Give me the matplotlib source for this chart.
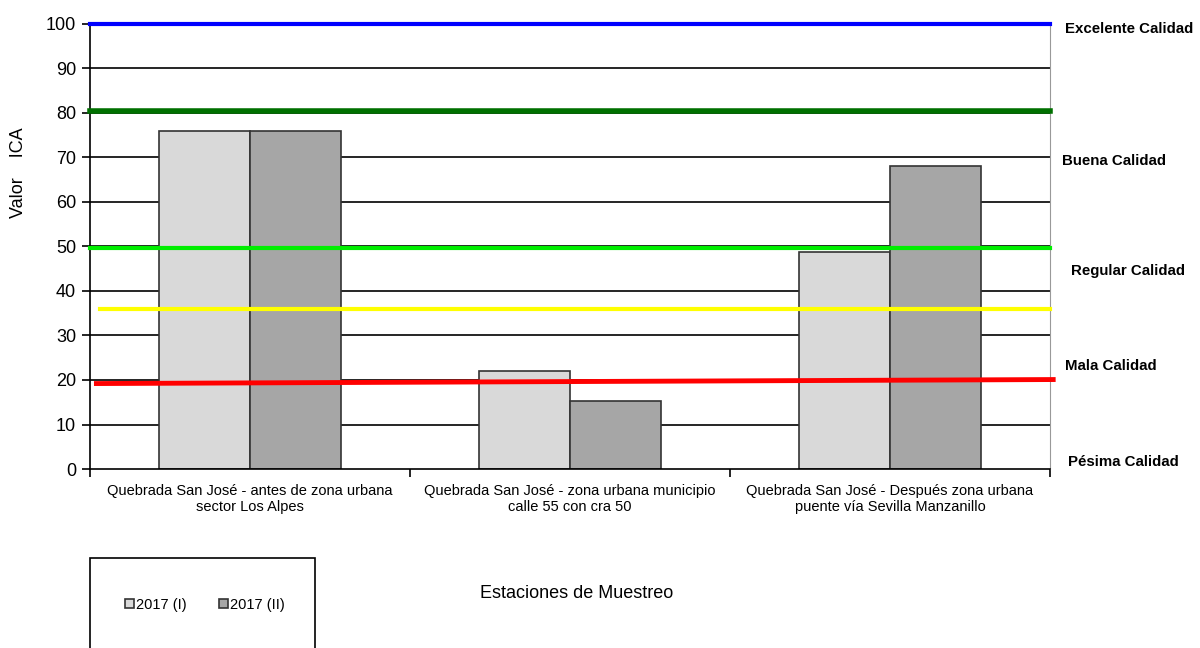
import matplotlib
matplotlib.use("Agg")
import matplotlib.pyplot as plt
from matplotlib.patches import Rectangle
import numpy as np

categories = ["Quebrada San José - antes de zona urbana\nsector Los Alpes",
              "Quebrada San José - zona urbana municipio\ncalle 55 con cra 50",
              "Quebrada San José - Después zona urbana\npuente vía Sevilla Manzanillo"]
series_names = ["2017 (I)", "2017 (II)"]
vals_I = [76, 22, 48.7]
vals_II = [76, 15.3, 68]
yticks = list(range(0, 101, 10))

# quality threshold lines (start value, end value)
thr_blue = [100, 100]
thr_dgreen = [80.5, 80.5]
thr_green = [49.6, 49.6]
thr_yellow = [36, 36]
thr_red = [19.2, 20.1]

quality_labels = ["Excelente Calidad", "Buena Calidad", "Regular Calidad", "Mala Calidad", "Pésima Calidad"]
quality_y = [98.8, 69.3, 44.5, 23.2, 1.5]
quality_x = [1.016, 1.013, 1.022, 1.016, 1.019]

FONT = ["Liberation Sans", "DejaVu Sans"]
plt.rcParams["font.family"] = FONT

fig = plt.figure(figsize=(12, 6.48), dpi=100)
ax = fig.add_axes([0.075, 0.2762, 0.8, 0.687])

x = np.arange(len(categories))
w = 0.285
ax.set_xlim(-0.5, 2.5)
ax.set_ylim(0, 100)

for yt in yticks[1:-1]:
    ax.axhline(yt, color="black", lw=1.2, zorder=0)

ax.bar(x - w/2, vals_I, w, color="#d9d9d9", edgecolor="#333333", lw=1.2, zorder=2, label=series_names[0])
ax.bar(x + w/2, vals_II, w, color="#a6a6a6", edgecolor="#333333", lw=1.2, zorder=2, label=series_names[1])

xl = [-0.5, 2.5]
ax.plot(xl, thr_blue, color="#0000ff", lw=3, zorder=4, clip_on=False)
ax.plot(xl, thr_dgreen, color="#007000", lw=4, zorder=4, clip_on=False)
ax.plot(xl, thr_green, color="#00ee00", lw=3, zorder=4, clip_on=False)
ax.plot([-0.47, 2.5], thr_yellow, color="#ffff00", lw=3, zorder=4, clip_on=False)
ax.plot([-0.48, 2.51], thr_red, color="#ff0000", lw=3.5, zorder=4, clip_on=False)

ax.spines["top"].set_visible(False)
ax.spines["right"].set_color("#999999")
ax.spines["left"].set_color("black")
ax.spines["bottom"].set_color("black")
ax.spines["left"].set_linewidth(1.2)
ax.spines["bottom"].set_linewidth(1.2)

ax.set_yticks(yticks)
ax.set_yticklabels([str(v) for v in yticks], fontsize=13)
ax.tick_params(axis="y", length=6, width=1.2, pad=4, colors="black")
ax.set_xticks([-0.5, 0.5, 1.5, 2.5])
ax.set_xticklabels([])
ax.tick_params(axis="x", length=6, width=1.2)
for xi, c in zip(x, categories):
    ax.text(xi, -3.4, c, ha="center", va="top", fontsize=10.5, linespacing=1.15)

ax.set_ylabel("Valor    ICA", fontsize=13)
ax.yaxis.set_label_coords(-0.066, 0.665)

for lab, yy, xx in zip(quality_labels, quality_y, quality_x):
    ax.text(xx, yy, lab, transform=ax.get_yaxis_transform(), ha="left", va="center",
            fontsize=10.8, fontweight="bold")

fig.text(577/1200, 1-594/648, "Estaciones de Muestreo", ha="center", va="center", fontsize=13)

fig.patches.append(Rectangle((90/1200, -0.05), 225/1200, (648-558)/648 + 0.05,
                             transform=fig.transFigure, facecolor="white", edgecolor="black", lw=1.2))
leg = fig.legend(loc="center", bbox_to_anchor=(205/1200, 1-605/648), ncol=2, frameon=False,
                 prop={"size": 10.5}, handlelength=0.6, handleheight=0.6,
                 handletextpad=0.15, columnspacing=2.2)

fig.savefig("out.png", dpi=100)
